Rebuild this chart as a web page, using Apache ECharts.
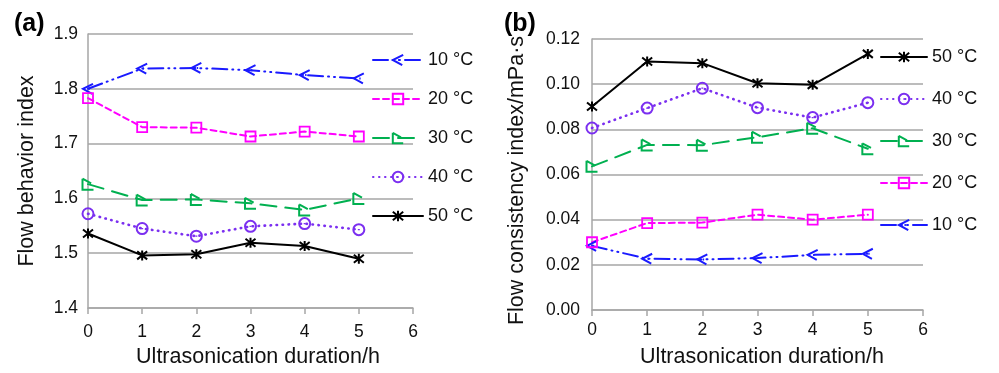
<!DOCTYPE html>
<html>
<head>
<meta charset="utf-8">
<script src="https://cdn.jsdelivr.net/npm/echarts@6/dist/echarts.min.js"></script>
<style>
html,body{margin:0;padding:0;background:#fff;}
#c{width:999px;height:373px;}
</style>
</head>
<body>
<div id="c"></div>
<script>
// ---- data ----
var durations = [0, 1, 2, 3, 4, 5];
var temps = ['10 °C', '20 °C', '30 °C', '40 °C', '50 °C'];
// (a) Flow behavior index
var nA10 = [1.800, 1.837, 1.838, 1.834, 1.825, 1.819];
var nA20 = [1.783, 1.730, 1.729, 1.713, 1.722, 1.713];
var nA30 = [1.626, 1.597, 1.598, 1.591, 1.579, 1.600];
var nA40 = [1.572, 1.545, 1.531, 1.549, 1.554, 1.543];
var nA50 = [1.536, 1.496, 1.498, 1.519, 1.513, 1.490];
// (b) Flow consistency index / mPa·s
var kB10 = [0.0284, 0.0227, 0.0224, 0.0230, 0.0244, 0.0249];
var kB20 = [0.0300, 0.0385, 0.0387, 0.0422, 0.0400, 0.0422];
var kB30 = [0.0636, 0.0731, 0.0730, 0.0765, 0.0805, 0.0714];
var kB40 = [0.0806, 0.0894, 0.0982, 0.0896, 0.0852, 0.0918];
var kB50 = [0.0901, 0.1100, 0.1093, 0.1004, 0.0997, 0.1134];
var yTicksA = [1.4, 1.5, 1.6, 1.7, 1.8, 1.9];
var yTicksB = [0.00, 0.02, 0.04, 0.06, 0.08, 0.10, 0.12];
var xTicks = [0, 1, 2, 3, 4, 5, 6];

// ---- styles ----
var FONT = 'Liberation Sans, Arial, Helvetica, sans-serif';
var GRAY = '#a6a6a6';
var styles = {
  '10 °C': {color: '#1a1aff', dash: [15, 5, 1, 5, 1, 5], symbol: 'path://M16,2 L5,10 L15,18 M11,10 L12.5,10', size: 10, fill: 'rgba(0,0,0,0)', bw: 2},
  '20 °C': {color: '#ff00ff', dash: [6, 4], symbol: 'rect', size: 10, fill: 'rgba(0,0,0,0)', bw: 1.8},
  '30 °C': {color: '#00b050', dash: [16, 9], symbol: 'path://M4,2 L4,16 L18,16 M4,2 L15,8', size: 11, fill: 'rgba(0,0,0,0)', bw: 2},
  '40 °C': {color: '#7b2ff0', dash: [0.5, 5.5], symbol: 'path://M10,1 A9,9 0 1,1 9.99,1 Z M10,9 L10,11', size: 11, fill: 'rgba(0,0,0,0)', bw: 2},
  '50 °C': {color: '#000000', dash: 'solid', symbol: 'path://M2,2 L18,18 M18,2 L2,18 M10,0 L10,20', size: 10, fill: 'rgba(0,0,0,0)', bw: 2}
};

function mkSeries(name, vals, idx) {
  var s = styles[name];
  return {
    name: name,
    type: 'line',
    xAxisIndex: idx, yAxisIndex: idx,
    data: durations.map(function (d, i) { return [d, vals[i]]; }),
    symbol: s.symbol,
    symbolSize: s.size,
    showAllSymbol: true,
    lineStyle: {color: s.color, width: name === '40 °C' ? 2.6 : 2, type: s.dash, cap: 'round'},
    itemStyle: {color: s.fill, borderColor: s.color, borderWidth: s.bw},
    emphasis: {disabled: true},
    animation: false,
    z: 3
  };
}

function xAxisCfg(gi, padLeft, gap, margin) {
  return {
    type: 'value', gridIndex: gi, min: 0, max: 6, interval: 1,
    name: 'Ultrasonication duration/h', nameLocation: 'middle', nameGap: gap,
    nameTextStyle: {fontFamily: FONT, fontSize: 21.5, color: '#111', padding: [0, 0, 0, padLeft]},
    axisLine: {show: true, lineStyle: {color: GRAY, width: 1.5}},
    axisTick: {show: true, length: 6, lineStyle: {color: GRAY, width: 1.5}},
    axisLabel: {fontFamily: FONT, fontSize: 17.5, color: '#111', margin: margin,
      formatter: function (v) { return xTicks.indexOf(v) >= 0 ? String(v) : ''; }},
    splitLine: {show: false}
  };
}

function yAxisCfg(gi, min, max, interval, dec, name, gap, pad, margin, ticks) {
  return {
    type: 'value', gridIndex: gi, min: min, max: max, interval: interval,
    name: name, nameLocation: 'middle', nameGap: gap,
    nameTextStyle: {fontFamily: FONT, fontSize: 21.5, color: '#111', padding: pad},
    axisLine: {show: true, lineStyle: {color: GRAY, width: 1.5}},
    axisTick: {show: false},
    axisLabel: {fontFamily: FONT, fontSize: 17.5, color: '#111', margin: margin,
      formatter: function (v) {
        var t = ticks.filter(function (k) { return Math.abs(k - v) < 1e-9; });
        return t.length ? t[0].toFixed(dec) : '';
      }},
    splitLine: {show: true, lineStyle: {color: GRAY, width: 1.5}}
  };
}

var chart = echarts.init(document.getElementById('c'), null, {renderer: 'canvas'});
var series = [
  mkSeries('10 °C', nA10, 0), mkSeries('20 °C', nA20, 0), mkSeries('30 °C', nA30, 0),
  mkSeries('40 °C', nA40, 0), mkSeries('50 °C', nA50, 0),
  mkSeries('10 °C', kB10, 1), mkSeries('20 °C', kB20, 1), mkSeries('30 °C', kB30, 1),
  mkSeries('40 °C', kB40, 1), mkSeries('50 °C', kB50, 1)
];

chart.setOption({
  backgroundColor: '#fff',
  animation: false,
  grid: [
    {left: 88, right: 586, top: 34, bottom: 64},
    {left: 592, right: 76, top: 39, bottom: 63}
  ],
  xAxis: [xAxisCfg(0, 15, 38, 15), xAxisCfg(1, 9, 36, 11)],
  yAxis: [
    yAxisCfg(0, 1.4, 1.9, 0.1, 1, 'Flow behavior index', 50, [0, 0, 0, 0], 10, yTicksA),
    yAxisCfg(1, 0, 0.12, 0.02, 2, 'Flow consistency index/mPa·s', 64, [0, 12, 0, 0], 12, yTicksB)
  ],
  legend: [
    {orient: 'vertical', left: 367, top: 46, itemWidth: 50, itemHeight: 13, itemGap: 21,
      data: temps.slice(), selectedMode: false,
      textStyle: {fontFamily: FONT, fontSize: 18, color: '#111', lineHeight: 18}},
    {orient: 'vertical', left: 875, top: 43, itemWidth: 46, itemHeight: 13, itemGap: 24,
      data: temps.slice().reverse(), selectedMode: false,
      textStyle: {fontFamily: FONT, fontSize: 18, color: '#111', lineHeight: 18}}
  ],
  graphic: [
    {type: 'text', left: 14, top: 12, style: {text: '(a)', font: 'bold 25px ' + FONT, fill: '#000'}},
    {type: 'text', left: 504, top: 12, style: {text: '(b)', font: 'bold 25px ' + FONT, fill: '#000'}}
  ],
  series: series
});
</script>
</body>
</html>
